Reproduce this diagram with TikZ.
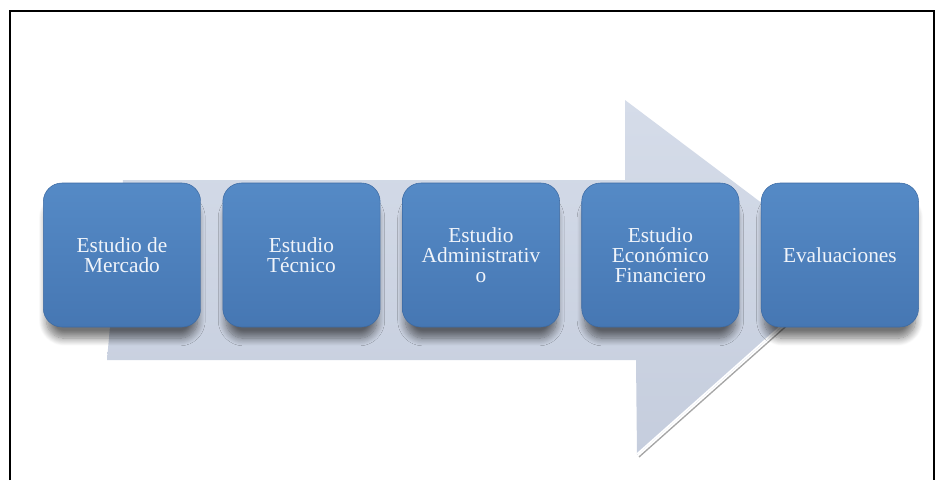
\documentclass[tikz,border=0pt]{standalone}
\usepackage{fontspec}
\setmainfont{Liberation Serif}
\usetikzlibrary{shadows.blur}
\definecolor{cajaclara}{HTML}{558AC6}
\definecolor{cajaosc}{HTML}{4677B3}
\definecolor{cajaborde}{HTML}{3C6AA3}
\definecolor{flechagris}{HTML}{C5CDDD}
\definecolor{flechaclara}{HTML}{D5DCE9}
\definecolor{textoclaro}{HTML}{F0F4FA}

\begin{document}
\begin{tikzpicture}[x=0.75pt,y=-0.75pt,node distance=134.6pt]

\tikzstyle{etapa}=[rectangle,rounded corners=14pt,
	minimum width=118pt,minimum height=108pt,
	top color=cajaclara,bottom color=cajaosc,draw=cajaborde,
	text=textoclaro,align=center,font=\fontsize{16}{15}\selectfont,
	blur shadow={shadow xshift=0pt,shadow yshift=-11pt,shadow scale=0.96,
		shadow blur radius=6pt,shadow blur steps=12,shadow opacity=55}]
\tikzstyle{flecha}=[top color=flechaclara,bottom color=flechagris]

\useasboundingbox (0,0) rectangle (942,480);
\draw[line width=1pt] (10,480) -- (10,11) -- (934,11) -- (934,480);

% flecha de fondo
\shade[flecha] (123,180) -- (625,180) -- (625,100) -- (848,268)
	-- (637,455) -- (636,360) -- (107,360) -- cycle;
\draw[gray!70,line width=1pt] (639,457) -- (792,321);
\draw[white,line width=1.2pt] (637,454) -- (790,318);

\node[etapa](A) at (122,255){Estudio de\\Mercado};

\node[etapa](B)[right of=A]{Estudio\\Técnico};

\node[etapa](C)[right of=B]{Estudio\\Administrativ\\o};

\node[etapa](D)[right of=C]{Estudio\\Económico\\Financiero};

\node[etapa](E)[right of=D]{Evaluaciones};

\end{tikzpicture}
\end{document}
